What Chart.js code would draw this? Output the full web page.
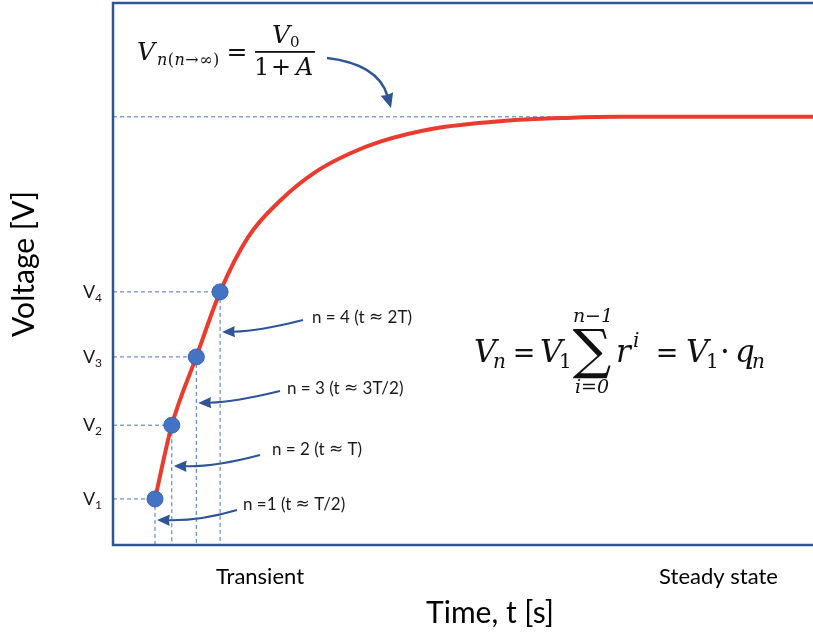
<!DOCTYPE html>
<html>
<head>
<meta charset="utf-8">
<script src="https://cdn.jsdelivr.net/npm/chart.js@4"></script>
<style>
  html, body { margin: 0; padding: 0; background: #fff; overflow: hidden; }
  #wrap { width: 813px; height: 641px; }
  canvas { display: block; }
</style>
</head>
<body>
<div id="wrap"><canvas id="myChart" width="813" height="641"></canvas></div>
<script>
// Charging curve (time and voltage in chart units, both axes 0..100)
const curveT = [6.0, 8.4, 11.9, 15.3, 19.3, 24.1, 28.9, 33.6, 38.4, 45.7, 55.3, 64.9, 72.4, 100];
const curveV = [8.5, 22.1, 34.7, 46.7, 56.8, 63.8, 68.8, 72.1, 74.5, 76.8, 78.2, 78.8, 79.0, 79.0];

// Sampled steps n = 1..4
const stepT = [6.0, 8.4, 11.9, 15.3];
const stepV = [8.5, 22.1, 34.7, 46.7];
const stepSubs = ['1', '2', '3', '4'];
const stepLabels = ['n =1 (t \u2248 T/2)', 'n = 2 (t \u2248 T)', 'n = 3 (t \u2248 3T/2)', 'n = 4 (t \u2248 2T)'];

// Steady state level
const steadyV = 79.0;

// Phase labels under the x axis
const phaseLabels = ['Transient', 'Steady state'];
const phaseT = [21, 86.5];

const BLUE = '#4472C4';
const DARK = '#2F5597';
const RED = '#EA3B2E';
const SANS = 'Lato, "Open Sans", sans-serif';
const MATH = '"DejaVu Serif", serif';

// Arrow layout for the n labels (pixel offsets)
const arrowLayout = [
    { textX: 243, textY: 505, from: [237, 510], tipY: 520, ctrl: [200, 521] },
    { textX: 272, textY: 450, from: [260, 455], tipY: 466, ctrl: [215, 467] },
    { textX: 287, textY: 389, from: [280, 391], tipY: 403, ctrl: [235, 402] },
    { textX: 312, textY: 318, from: [303, 320], tipY: 332, ctrl: [260, 331] }
];

function line(ctx, x1, y1, x2, y2) {
    ctx.beginPath();
    ctx.moveTo(x1, y1);
    ctx.lineTo(x2, y2);
    ctx.stroke();
}

function text(ctx, s, x, y, font, align) {
    ctx.font = font;
    ctx.textAlign = align || 'left';
    ctx.fillText(s, x, y);
}

// Pieces laid out one after another: [text, font, dy, gap]
function run(ctx, pieces, x, y) {
    ctx.textAlign = 'left';
    pieces.forEach(p => {
        ctx.font = p[1];
        ctx.fillText(p[0], x, y + (p[2] || 0));
        x += ctx.measureText(p[0]).width + (p[3] || 0);
    });
    return x;
}

// Label text, with the ≈ sign taken from DejaVu Sans
function label(ctx, s, x, y, size) {
    const parts = s.split('\u2248');
    ctx.textAlign = 'left';
    parts.forEach((p, i) => {
        ctx.font = size + 'px ' + SANS;
        ctx.fillText(p, x, y);
        x += ctx.measureText(p).width;
        if (i < parts.length - 1) {
            ctx.font = size + 'px "DejaVu Sans"';
            ctx.fillText('\u2248', x, y);
            x += ctx.measureText('\u2248').width;
        }
    });
}

// Curved arrow: quadratic curve with filled head at the end
function arrow(ctx, x1, y1, cx, cy, x2, y2, head) {
    const ang = Math.atan2(y2 - cy, x2 - cx);
    const bx = x2 - Math.cos(ang) * head * 0.8;
    const by = y2 - Math.sin(ang) * head * 0.8;
    ctx.beginPath();
    ctx.moveTo(x1, y1);
    ctx.quadraticCurveTo(cx, cy, bx, by);
    ctx.stroke();
    ctx.beginPath();
    ctx.moveTo(x2, y2);
    ctx.lineTo(x2 - head * Math.cos(ang - 0.42), y2 - head * Math.sin(ang - 0.42));
    ctx.lineTo(x2 - head * 0.85 * Math.cos(ang), y2 - head * 0.85 * Math.sin(ang));
    ctx.lineTo(x2 - head * Math.cos(ang + 0.42), y2 - head * Math.sin(ang + 0.42));
    ctx.closePath();
    ctx.fill();
}

const drawExtras = {
    id: 'drawExtras',
    beforeDatasetsDraw(chart) {
        const { ctx, chartArea: a, scales: { x, y } } = chart;
        ctx.save();
        ctx.strokeStyle = BLUE;
        ctx.lineWidth = 1;
        ctx.setLineDash([4, 3]);
        stepT.forEach((t, i) => {
            const px = x.getPixelForValue(t);
            const py = y.getPixelForValue(stepV[i]);
            line(ctx, a.left, py, px, py);
            line(ctx, px, py, px, a.bottom);
        });
        const sy = y.getPixelForValue(steadyV);
        line(ctx, a.left, sy, a.right, sy);
        ctx.restore();
    },
    afterDraw(chart) {
        const { ctx, chartArea: a, scales: { x, y } } = chart;
        ctx.save();

        // Frame (open on the right, cut by the picture edge)
        ctx.strokeStyle = DARK;
        ctx.lineWidth = 2.5;
        ctx.beginPath();
        ctx.moveTo(a.right + 5, a.top);
        ctx.lineTo(a.left, a.top);
        ctx.lineTo(a.left, a.bottom);
        ctx.lineTo(a.right + 5, a.bottom);
        ctx.stroke();

        // V tick labels
        ctx.fillStyle = '#1a1a1a';
        ctx.textBaseline = 'alphabetic';
        stepV.forEach((v, i) => {
            const py = y.getPixelForValue(v);
            text(ctx, 'V', 83, py + 6, '18px ' + SANS);
            text(ctx, stepSubs[i], 95, py + 10, '12px ' + SANS);
        });

        // Axis titles
        ctx.fillStyle = '#000';
        ctx.save();
        ctx.translate(34, 264);
        ctx.rotate(-Math.PI / 2);
        text(ctx, 'Voltage [V]', 0, 0, '30px ' + SANS, 'center');
        ctx.restore();
        text(ctx, 'Time, t [s]', 490, 623, '30px ' + SANS, 'center');

        phaseLabels.forEach((s, i) => {
            text(ctx, s, x.getPixelForValue(phaseT[i]), 584, '22px ' + SANS, 'center');
        });

        // n labels and arrows
        ctx.fillStyle = '#1a1a1a';
        ctx.textBaseline = 'middle';
        stepLabels.forEach((s, i) => {
            const L = arrowLayout[i];
            label(ctx, s, L.textX, L.textY, 17);
        });
        ctx.textBaseline = 'alphabetic';
        ctx.strokeStyle = DARK;
        ctx.fillStyle = DARK;
        ctx.lineWidth = 2;
        stepT.forEach((t, i) => {
            const L = arrowLayout[i];
            const tipX = x.getPixelForValue(t) + 2;
            arrow(ctx, L.from[0], L.from[1], L.ctrl[0], L.ctrl[1], tipX, L.tipY, 14);
        });
        ctx.lineWidth = 2.5;
        arrow(ctx, 327, 58, 378, 64, 391, 108, 16);

        // Top formula: V_n(n->inf) = V0 / (1 + A)
        ctx.fillStyle = '#111';
        text(ctx, 'V', 137, 60, 'italic 25px ' + MATH);
        const sub = '16px ' + MATH;
        run(ctx, [
            ['n', 'italic ' + sub, 0, 0.5],
            ['(', sub, 0, 0.5],
            ['n', 'italic ' + sub, 0, 0.5],
            ['\u2192', sub, 0, 0.5],
            ['\u221E', sub, 0, 0.5],
            [')', sub, 0, 0]
        ], 157, 65);
        text(ctx, '=', 237, 60, '25px ' + MATH, 'center');
        text(ctx, 'V', 272, 43, 'italic 25px ' + MATH);
        text(ctx, '0', 290, 47, '15px ' + MATH);
        ctx.fillRect(255, 51, 60, 1.8);
        text(ctx, '1', 254, 75, '24px ' + MATH);
        text(ctx, '+', 281, 75, '24px ' + MATH, 'center');
        text(ctx, 'A', 296, 75, 'italic 24px ' + MATH);

        // Right formula: Vn = V1 sum r^i = V1 . qn
        const by = 362;
        text(ctx, 'V', 474, by, 'italic 31px ' + MATH);
        text(ctx, 'n', 493, by + 6, 'italic 20px ' + MATH);
        text(ctx, '=', 524, by, '27px ' + MATH, 'center');
        text(ctx, 'V', 540, by, 'italic 31px ' + MATH);
        text(ctx, '1', 559, by + 6, '20px ' + MATH);
        ctx.textBaseline = 'middle';
        text(ctx, '\u2211', 592, 354, '54px ' + MATH, 'center');
        ctx.textBaseline = 'alphabetic';
        text(ctx, 'n\u22121', 593, 322, 'italic 19px ' + MATH, 'center');
        text(ctx, 'i=0', 592, 393, 'italic 19px ' + MATH, 'center');
        text(ctx, 'r', 616, by, 'italic 31px ' + MATH);
        text(ctx, 'i', 633, by - 15, 'italic 20px ' + MATH);
        text(ctx, '=', 667, by, '27px ' + MATH, 'center');
        text(ctx, 'V', 686, by, 'italic 31px ' + MATH);
        text(ctx, '1', 706, by + 6, '20px ' + MATH);
        text(ctx, '\u00B7', 725, by, '31px ' + MATH, 'center');
        text(ctx, 'q', 735, by, 'italic 31px ' + MATH);
        text(ctx, 'n', 752, by + 6, 'italic 20px ' + MATH);

        ctx.restore();
    }
};

const ctx = document.getElementById('myChart').getContext('2d');
const myChart = new Chart(ctx, {
    type: 'line',
    data: {
        datasets: [
            {
                data: stepT.map((t, i) => ({ x: t, y: stepV[i] })),
                showLine: false,
                pointRadius: 8,
                pointBackgroundColor: BLUE,
                pointBorderColor: '#3A63AD',
                pointBorderWidth: 1
            },
            {
                data: curveT.map((t, i) => ({ x: t, y: curveV[i] })),
                borderColor: RED,
                borderWidth: 4,
                pointRadius: 0,
                cubicInterpolationMode: 'monotone',
                fill: false
            }
        ]
    },
    options: {
        responsive: false,
        animation: false,
        layout: { autoPadding: false, padding: { left: 113, top: 3, right: 0, bottom: 96 } },
        scales: {
            x: { type: 'linear', min: 0, max: 100, display: false },
            y: { type: 'linear', min: 0, max: 100, display: false }
        },
        plugins: {
            legend: { display: false },
            tooltip: { enabled: false }
        }
    },
    plugins: [drawExtras]
});
</script>
</body>
</html>
